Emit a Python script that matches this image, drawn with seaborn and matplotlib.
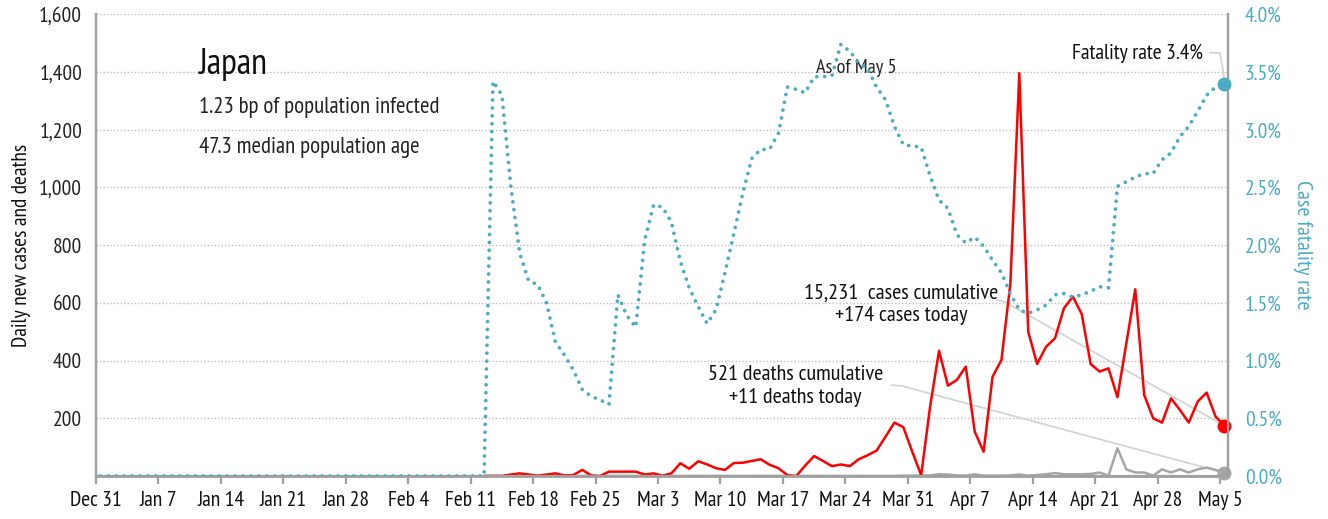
import pandas as pd
import matplotlib
matplotlib.use("Agg")
import matplotlib.pyplot as plt
import matplotlib.dates as mdates
from matplotlib import font_manager as fm
from matplotlib.ticker import FuncFormatter
import seaborn as sns

# --- data ---
dates = pd.date_range("2019-12-31", "2020-05-05", freq="D")

# case fatality rate, % : Dec 31 - Feb 12 at zero
cfr_lead = [0.0, 0.0, 0.0, 0.0, 0.0, 0.0, 0.0, 0.0, 0.0, 0.0, 0.0,
            0.0, 0.0, 0.0, 0.0, 0.0, 0.0, 0.0, 0.0, 0.0, 0.0, 0.0,
            0.0, 0.0, 0.0, 0.0, 0.0, 0.0, 0.0, 0.0, 0.0, 0.0, 0.0,
            0.0, 0.0, 0.0, 0.0, 0.0, 0.0, 0.0, 0.0, 0.0, 0.0, 0.0]
# Feb 13 - May 5
cfr_pct = [3.42, 3.30, 2.51, 1.93, 1.69, 1.66, 1.50, 1.16, 1.05, 0.92,
           0.75, 0.69, 0.66, 0.62, 1.57, 1.39, 1.29, 2.04, 2.35, 2.33,
           2.20, 1.86, 1.63, 1.47, 1.32, 1.44, 1.76, 2.10, 2.45, 2.75,
           2.83, 2.83, 2.97, 3.37, 3.35, 3.32, 3.46, 3.46, 3.47, 3.74,
           3.68, 3.58, 3.53, 3.37, 3.26, 3.03, 2.87, 2.86, 2.85, 2.60,
           2.39, 2.32, 2.09, 2.02, 2.07, 1.99, 1.87, 1.76, 1.58, 1.44,
           1.41, 1.44, 1.48, 1.57, 1.58, 1.55, 1.57, 1.60, 1.64, 1.63,
           2.51, 2.55, 2.59, 2.62, 2.62, 2.74, 2.80, 2.94, 3.03, 3.16,
           3.30, 3.37, 3.40]

# daily new cases / deaths, Feb 12 - May 5
cases = [0, 0, 0, 5, 9, 5, 1, 5, 9, 2,
         3, 21, 2, 0, 15, 15, 15, 15, 5, 9,
         1, 9, 44, 25, 51, 40, 27, 21, 45, 46,
         52, 58, 39, 27, 3, 0, 36, 69, 52, 34,
         40, 34, 58, 72, 88, 136, 185, 169, 84, 3,
         240, 434, 313, 333, 379, 154, 84, 344, 402, 668,
         1396, 500, 388, 448, 477, 581, 622, 561, 388, 362,
         373, 273, 460, 647, 281, 200, 185, 269, 229, 185,
         258, 289, 206, 174]
deaths = [0, 1, 0, 0, 0, 0, 0, 0, 0, 0,
          0, 0, 0, 0, 0, 0, 0, 0, 0, 0,
          0, 0, 0, 0, 0, 0, 0, 0, 0, 0,
          0, 0, 0, 0, 0, 0, 0, 0, 0, 0,
          0, 0, 0, 0, 0, 0, 0, 1, 1, 1,
          2, 6, 5, 2, 1, 6, 1, 1, 1, 2,
          5, 1, 3, 6, 10, 6, 6, 6, 7, 12,
          1, 96, 23, 12, 12, 1, 23, 12, 23, 12,
          23, 29, 21, 11]

total_cases = "15,231"
total_deaths = "521"

RED = "#FF0000"
BLUE = "#4BACC6"
GREY = "#A6A6A6"
LEAD = "#D4D4D4"
AXC = "#A0A0A0"
INK = "#111111"

sns.set_theme(style="white")
# narrow sans, whichever is installed
installed = {f.name for f in fm.fontManager.ttflist}
narrow = [n for n in ["PT Sans Narrow", "Liberation Sans Narrow", "IBM Plex Sans Condensed",
                      "Roboto Condensed"] if n in installed]
plt.rcParams["font.family"] = narrow[:1] + ["DejaVu Sans"]
plt.rcParams["font.size"] = 15.5

# points sit mid-day between the weekly ticks
x_all = dates + pd.Timedelta(hours=12)
rate_df = pd.DataFrame({"date": x_all, "cfr": cfr_lead + cfr_pct})
cd_df = pd.DataFrame({"date": x_all[-len(cases):], "cases": cases, "deaths": deaths})

fig = plt.figure(figsize=(13.28, 5.19), dpi=100)
ax = fig.add_axes([0.0723, 0.0829, 0.8524, 0.8894])
ax2 = ax.twinx()

sns.lineplot(data=cd_df, x="date", y="cases", ax=ax, color=RED, lw=1.8, zorder=4)
sns.lineplot(data=cd_df, x="date", y="deaths", ax=ax, color=GREY, lw=1.8, zorder=3)
sns.lineplot(data=rate_df, x="date", y="cfr", ax=ax2, color=BLUE, lw=2.7,
             linestyle=(0, (0.01, 2.1)), dash_capstyle="round", zorder=3)

last = cd_df.iloc[-1]
ax.plot([last["date"]], [last["cases"]], "o", color=RED, ms=9, zorder=6, clip_on=False)
ax.plot([last["date"]], [last["deaths"]], "o", color=GREY, ms=9, zorder=5, clip_on=False)
ax2.plot([rate_df["date"].iloc[-1]], [rate_df["cfr"].iloc[-1]], "o", color=BLUE, ms=9,
         zorder=6, clip_on=False)

# axes
ax.set_xlim(pd.Timestamp("2019-12-31"), pd.Timestamp("2020-05-05 21:30"))
ax.set_ylim(0, 1600)
ax2.set_ylim(0, 4)
ax.set_yticks(range(0, 1601, 200))
ax2.set_yticks([0, 0.5, 1, 1.5, 2, 2.5, 3, 3.5, 4])
ax.yaxis.set_major_formatter(FuncFormatter(lambda v, p: "" if v == 0 else f"{int(v):,}"))
ax2.yaxis.set_major_formatter(FuncFormatter(lambda v, p: f"{v:.1f}%"))
ax.set_xticks(pd.date_range("2019-12-31", "2020-05-05", freq="7D"))
ax.xaxis.set_major_formatter(mdates.DateFormatter("%b %-d"))

ax.grid(axis="y", color="#BDBDBD", linestyle=(0, (1, 1.5)), lw=1)
ax.grid(axis="x", visible=False)
ax2.grid(False)

for a in (ax, ax2):
    a.spines["top"].set_visible(False)
    for s in ("left", "right", "bottom"):
        a.spines[s].set_color(AXC)
        a.spines[s].set_linewidth(1.6)
ax.spines["bottom"].set_linewidth(2)

ax.tick_params(axis="x", bottom=True, length=6, width=1.6, color=AXC, pad=5, labelsize=15.5, labelcolor=INK)
ax.tick_params(axis="y", left=False, pad=4, labelsize=15.5, labelcolor="#222222")
ax2.tick_params(axis="y", right=False, pad=6, labelsize=15.5, labelcolor=BLUE)

ax.set_xlabel("")
ax.set_ylabel("Daily new cases and deaths", fontsize=15.5, color=INK, labelpad=6)
ax2.set_ylabel("Case fatality rate", fontsize=16, color=BLUE, rotation=270, labelpad=22)

# titles / notes
ax.text(0.091, 0.871, "Japan", transform=ax.transAxes, fontsize=26, color=INK, va="baseline")
ax.text(0.091, 0.786, "1.23 bp of population infected", transform=ax.transAxes,
        fontsize=16.5, color="#222222", va="baseline")
ax.text(0.091, 0.700, "47.3 median population age", transform=ax.transAxes,
        fontsize=16.5, color="#222222", va="baseline")
ax.text(0.672, 0.884, "As of May 5", transform=ax.transAxes, fontsize=14.5, color="#222222",
        ha="center", va="center")

ax.text(0.978, 0.916, f"Fatality rate {cfr_pct[-1]:.1f}%", transform=ax.transAxes,
        fontsize=15.5, color=INK, ha="right", va="center")
ax.text(0.711, 0.396, f"{total_cases}  cases cumulative", transform=ax.transAxes,
        fontsize=16, color=INK, ha="center", va="center")
ax.text(0.711, 0.347, f"+{cases[-1]} cases today", transform=ax.transAxes,
        fontsize=16, color=INK, ha="center", va="center")
ax.text(0.618, 0.219, f"{total_deaths} deaths cumulative", transform=ax.transAxes,
        fontsize=16, color=INK, ha="center", va="center")
ax.text(0.618, 0.171, f"+{deaths[-1]} deaths today", transform=ax.transAxes,
        fontsize=16, color=INK, ha="center", va="center")

# leader lines
def leader(axis, pts, xy):
    for (x0, y0), (x1, y1) in zip(pts[:-1], pts[1:]):
        ax.plot([x0, x1], [y0, y1], transform=ax.transAxes, color=LEAD, lw=1.3, zorder=2)
    axis.annotate("", xy=xy, xycoords="data", xytext=pts[-1], textcoords="axes fraction",
                  arrowprops=dict(arrowstyle="-", color=LEAD, lw=1.3, shrinkA=0, shrinkB=0),
                  zorder=2)

leader(ax, [(0.796, 0.381), (0.803, 0.377)], (last["date"], last["cases"]))
leader(ax, [(0.703, 0.197), (0.712, 0.195)], (last["date"], last["deaths"]))
leader(ax2, [(0.984, 0.917), (0.993, 0.916), (0.996, 0.873)],
       (rate_df["date"].iloc[-1], rate_df["cfr"].iloc[-1]))

fig.savefig("out.png", dpi=100)
